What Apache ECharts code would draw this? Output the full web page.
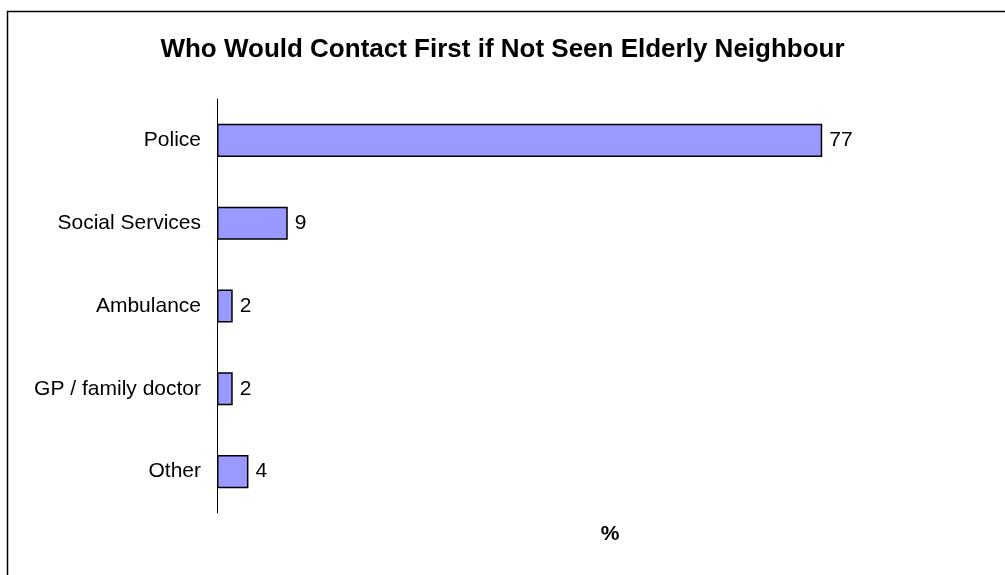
<!DOCTYPE html>
<html>
<head>
<meta charset="utf-8">
<script src="https://cdn.jsdelivr.net/npm/echarts@6/dist/echarts.min.js"></script>
<style>
  html, body { margin: 0; padding: 0; background: #fff; }
  #chart { width: 1005px; height: 575px; }
</style>
</head>
<body>
<div id="chart"></div>
<script>
// Who would be contacted first about an unseen elderly neighbour (%)
const categories = ['Police', 'Social Services', 'Ambulance', 'GP / family doctor', 'Other'];
const shares = [77, 9, 2, 2, 4];

const chart = echarts.init(document.getElementById('chart'), null, { renderer: 'canvas' });
const font = '"Liberation Sans", Arial, sans-serif';

chart.setOption({
  animation: false,
  backgroundColor: '#ffffff',
  title: {
    text: 'Who Would Contact First if Not Seen Elderly Neighbour',
    left: 'center',
    top: 32,
    textStyle: { fontFamily: font, fontSize: 26, fontWeight: 'bold', color: '#000' }
  },
  graphic: [{
    type: 'rect',
    shape: { x: 7.5, y: 11.5, width: 1010, height: 600 },
    style: { fill: 'none', stroke: '#000', lineWidth: 1.5 },
    silent: true
  }],
  grid: { left: 217, right: 2, top: 99, bottom: 62, containLabel: false },
  xAxis: {
    type: 'value',
    min: 0,
    max: 100,
    name: '%',
    nameLocation: 'middle',
    nameGap: 11,
    nameTextStyle: { fontFamily: font, fontSize: 21, fontWeight: 'bold', color: '#000' },
    axisLine: { show: false },
    axisTick: { show: false },
    axisLabel: { show: false },
    splitLine: { show: false }
  },
  yAxis: {
    type: 'category',
    data: categories,
    inverse: true,
    axisLine: { show: true, lineStyle: { color: '#000', width: 1 } },
    axisTick: { show: false },
    axisLabel: { fontFamily: font, fontSize: 21, color: '#000', margin: 16 }
  },
  series: [{
    type: 'bar',
    data: shares,
    barWidth: '40%',
    itemStyle: { color: '#9999ff', borderColor: '#000', borderWidth: 1.5 },
    label: {
      show: true,
      position: 'right',
      distance: 7,
      fontFamily: font,
      fontSize: 21,
      color: '#000'
    }
  }]
});
</script>
</body>
</html>
